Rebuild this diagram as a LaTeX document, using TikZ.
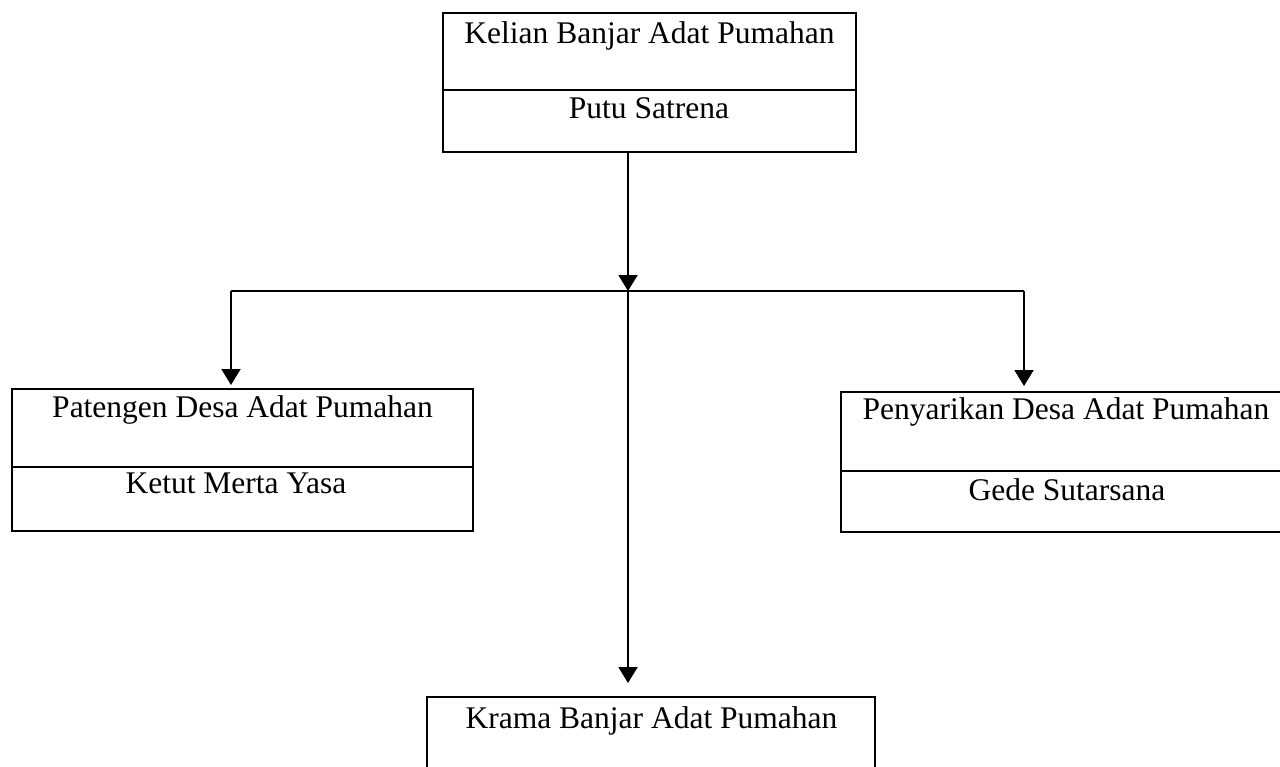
\documentclass[tikz,border=0pt]{standalone}
\usepackage{fontspec}
\setmainfont{Liberation Serif}
\usetikzlibrary{arrows.meta}
\begin{document}
\begin{tikzpicture}[x=1pt,y=-1pt,
  box/.style={draw,line width=2pt,rectangle,inner sep=0pt},
  lbl/.style={anchor=base,inner sep=0pt,font=\fontsize{31.5}{36}\selectfont},
  conn/.style={line width=2pt},
  arr/.style={line width=2pt,-{Triangle[width=19pt,length=16pt]}}]
\useasboundingbox (0,0) rectangle (1280,766);
\clip (0,0) rectangle (1280,766);
% boxes
\node[box,minimum width=413pt,minimum height=139pt] (top) at (649.5,82.5) {};
\node[box,minimum width=461pt,minimum height=142pt] (left) at (242.5,460) {};
\node[box,minimum width=451pt,minimum height=140pt] (right) at (1066.5,462) {};
\node[box,minimum width=448pt,minimum height=120pt] (bottom) at (651,757) {};
% dividers
\draw[conn] (top.west |- 0,90) -- (top.east |- 0,90);
\draw[conn] (left.west |- 0,467) -- (left.east |- 0,467);
\draw[conn] (right.west |- 0,471) -- (right.east |- 0,471);
% texts
\node[lbl] (t1) at (649.5,43) {Kelian Banjar Adat Pumahan};
\node[lbl] (t2) at (649,118) {Putu Satrena};
\node[lbl] (l1) at (242.5,417) {Patengen Desa Adat Pumahan};
\node[lbl] (l2) at (236,493) {Ketut Merta Yasa};
\node[lbl] (r1) at (1066,419) {Penyarikan Desa Adat Pumahan};
\node[lbl] (r2) at (1067,500) {Gede Sutarsana};
\node[lbl] (b1) at (651.5,728) {Krama Banjar Adat Pumahan};
% connectors
\coordinate (j) at (628,291);
\coordinate (lj) at (231,291);
\coordinate (rj) at (1024,291);
\draw[arr] (top.south -| j) -- (j);
\draw[conn] (lj) -- (rj);
\draw[arr] (lj) -- ([yshift=3pt]left.north -| lj);
\draw[arr] (rj) -- ([yshift=5pt]right.north -| rj);
\draw[arr] (j) -- ([yshift=13pt]bottom.north -| j);
\end{tikzpicture}
\end{document}
